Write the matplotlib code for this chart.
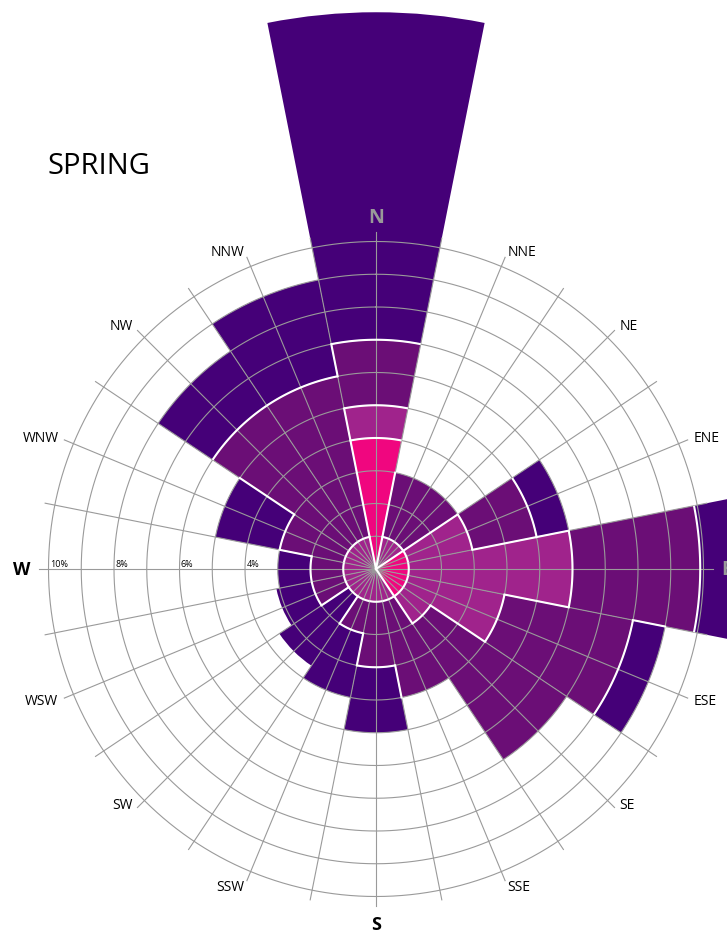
import numpy as np
import matplotlib.pyplot as plt

#### data: frequency (%) of each speed class per direction
dirs = ['N', 'NNE', 'NE', 'ENE', 'E', 'ESE', 'SE', 'SSE',
        'S', 'SSW', 'SW', 'WSW', 'W', 'WNW', 'NW', 'NNW']
cls1 = [4.0, 0.0, 0.0, 1.0, 1.0, 1.0, 1.0, 0.0, 0.0, 0.0, 0.0, 0.0, 0.0, 0.0, 0.0, 0.0]
cls2 = [1.0, 1.0, 1.0, 2.0, 5.0, 3.0, 1.0, 1.0, 1.0, 1.0, 1.0, 1.0, 1.0, 1.0, 1.0, 1.0]
cls3 = [2.0, 2.0, 2.0, 2.0, 3.9, 4.0, 5.0, 3.0, 2.0, 1.0, 0.0, 1.0, 1.0, 2.0, 5.0, 5.0]
cls4 = [10.0, 0.0, 0.0, 1.0, 2.5, 1.0, 0.0, 0.0, 2.0, 2.0, 2.55, 1.1, 1.0, 2.0, 2.0, 3.0]
ring_labels = [4, 6, 8, 10]

colors = ['#F0067F', '#A0238C', '#6B0E76', '#450078']
grid_col = '#9a9a9a'

vals = np.array([cls1, cls2, cls3, cls4])
cum = np.cumsum(vals, axis=0)
n = len(dirs)
w = 2*np.pi/n
theta = np.arange(n)*w

#### figure / polar axes (center at 376,570 px, 1% = 32.75 px)
W, H = 727, 937
fig = plt.figure(figsize=(W/100, H/100), dpi=100)
rmax = 18.0
R = rmax*32.75
cx, cy = 376, H-570
ax = fig.add_axes([(cx-R)/W, (cy-R)/H, 2*R/W, 2*R/H], projection='polar')
ax.set_theta_zero_location('N')
ax.set_theta_direction(-1)
ax.set_ylim(0, rmax)
ax.set_xticks([])
ax.set_yticks([])
ax.grid(False)
ax.spines['polar'].set_visible(False)

#### stacked bars
for k in range(4):
    bottom = cum[k]-vals[k]
    ax.bar(theta, vals[k], width=w, bottom=bottom, color=colors[k],
           edgecolor='none', linewidth=0, zorder=1)

#### grid
tt = np.linspace(0, 2*np.pi, 721)
for r in range(1, 11):
    ax.plot(tt, np.full_like(tt, r), color=grid_col, lw=0.8, zorder=2)
for a in np.arange(32)*w/2:
    ax.plot([a, a], [0, 10.3], color=grid_col, lw=0.8, zorder=2)

#### white outlines between speed classes
def cls_at(i, r):
    for k in range(4):
        if vals[k, i] > 0 and r < cum[k, i]:
            return k
    return -1

for i in range(n):
    for k in range(3):
        if vals[k, i] > 0 and cum[3, i] > cum[k, i]:
            ta = np.linspace(theta[i]-w/2, theta[i]+w/2, 40)
            ax.plot(ta, np.full_like(ta, cum[k, i]), color='white', lw=1.5,
                    zorder=3, solid_capstyle='butt')
    j = (i+1) % n
    edge = theta[i]+w/2
    pts = np.unique(np.concatenate([[0], cum[:, i], cum[:, j]]))
    for a, b in zip(pts[:-1], pts[1:]):
        m = (a+b)/2
        ci, cj = cls_at(i, m), cls_at(j, m)
        if ci != cj and ci >= 0 and cj >= 0:
            ax.plot([edge, edge], [a, b], color='white', lw=1.5, zorder=3)

#### direction labels
for i, d in enumerate(dirs):
    s = np.sin(theta[i])
    ha = 'center' if abs(s) < 1e-6 else ('left' if s > 0 else 'right')
    va = 'bottom' if d in ('SE', 'SW') else 'center'
    if d in ('N', 'E'):
        ax.text(theta[i], 10.75 if d == 'N' else 10.55, d, ha=ha, va='center',
                fontsize=14, fontweight='bold', color='#999999',
                family='Open Sans', zorder=5)
    elif d in ('S', 'W'):
        ax.text(theta[i], 10.85 if d == 'S' else 10.55, d, ha=ha, va='center',
                fontsize=13, fontweight='bold', color='black',
                family='Open Sans', zorder=5)
    else:
        ax.text(theta[i], 10.5, d, ha=ha, va=va, fontsize=10,
                color='black', family='Open Sans', zorder=5)

#### ring percentage labels along W axis
for r in ring_labels:
    ax.annotate('%d%%' % r, xy=(1.5*np.pi, r), xytext=(1, 1),
                textcoords='offset points', ha='left', va='bottom',
                fontsize=6.5, family='Open Sans', zorder=5)

fig.text(47/W, 1-167/H, 'SPRING', ha='left', va='center', fontsize=21,
         family='Open Sans')

fig.savefig('out.png', dpi=100)
